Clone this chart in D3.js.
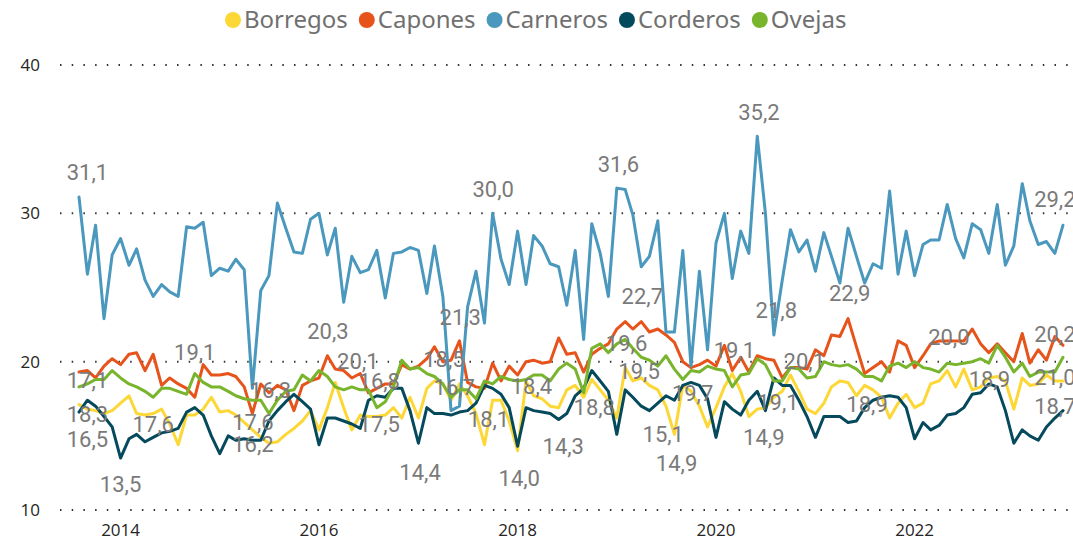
<!DOCTYPE html>
<html>
<head>
<meta charset="utf-8">
<script src="https://cdn.jsdelivr.net/npm/d3@7"></script>
<style>
  body { margin: 0; background: #fff; }
  svg { display: block; }
</style>
</head>
<body>
<svg id="chart" width="1073" height="541"></svg>
<script>
/* ============================================================
   DATA  (monthly, Aug 2013 -> Jul 2023)
============================================================ */

const months = d3.timeMonth.range(new Date(2013, 7, 1), new Date(2023, 7, 1));

const SERIES_NAMES = ["Borregos", "Capones", "Carneros", "Corderos", "Ovejas"];
const SERIES_COLORS = ["#FCD736", "#E6541C", "#4A98BD", "#05495C", "#78B52C"];

const borregos = [
    17.1, 16.8, 16.7, 16.5, 16.7,
    17.2, 17.7, 16.5, 16.4, 16.5, 16.8, 15.8, 14.4, 16.4, 16.4, 16.8, 17.6,
    16.6, 16.7, 16.4, 15.9, 15.4, 14.9, 14.5, 14.6, 15.1, 15.5, 16.0, 16.7,
    15.4, 16.9, 18.6, 16.9, 15.4, 16.4, 16.3, 16.3, 16.4, 16.9, 16.2, 17.6,
    16.2, 18.2, 18.7, 18.5, 17.4, 18.5, 17.7, 16.5, 14.4, 17.4, 17.4, 16.0,
    14.0, 18.7, 17.7, 17.5, 17.0, 16.9, 18.1, 18.4, 17.6, 18.8, 18.1, 17.4,
    16.2, 19.6, 18.7, 18.9, 18.4, 18.1, 17.0, 15.1, 18.4, 18.0, 17.0, 15.6,
    16.9, 18.3, 19.2, 18.0, 16.3, 16.8, 16.9, 17.6, 18.0, 19.1, 18.0, 16.8,
    16.5, 17.2, 18.3, 18.7, 18.6, 17.7, 18.4, 18.1, 17.6, 16.2, 17.2, 17.8,
    16.9, 17.2, 18.5, 18.7, 19.4, 18.3, 19.5, 18.1, 18.3, 18.9, 19.0, 18.7,
    16.8, 18.9, 18.4, 18.5, 19.1, 18.7, 18.7
];

const capones = [
    19.3, 19.4, 18.9, 19.7, 20.2,
    19.8, 20.5, 20.6, 19.4, 20.5, 18.4, 18.9, 18.5, 18.2, 17.6, 19.8, 19.1,
    19.1, 19.2, 19.0, 18.3, 16.5, 18.5, 17.9, 18.4, 18.1, 16.7, 18.4, 18.7,
    18.9, 20.4, 19.5, 19.4, 18.9, 19.2, 17.9, 18.2, 18.5, 18.5, 19.8, 19.5,
    19.7, 20.2, 21.0, 20.0, 20.1, 21.4, 18.6, 18.3, 18.2, 19.9, 18.7, 19.7,
    19.1, 20.0, 20.1, 19.9, 20.0, 21.6, 20.5, 20.6, 19.3, 20.5, 20.9, 21.2,
    22.2, 22.7, 22.2, 22.7, 22.0, 22.2, 21.8, 21.3, 20.0, 19.6, 19.8, 20.1,
    19.7, 21.1, 19.4, 20.3, 19.3, 20.4, 20.2, 20.1, 18.9, 19.6, 19.6, 19.5,
    20.8, 20.4, 21.8, 21.7, 22.9, 21.0, 19.2, 19.6, 20.0, 19.3, 21.4, 21.1,
    19.6, 20.4, 21.2, 21.4, 21.4, 21.4, 21.4, 22.2, 21.2, 20.6, 21.2, 20.6,
    20.0, 21.9, 19.9, 20.8, 20.1, 21.7, 21.1
];

const carneros = [
    31.1, 25.9, 29.2, 22.9, 27.2,
    28.3, 26.5, 27.6, 25.5, 24.4, 25.2, 24.7, 24.4, 29.1, 29.0, 29.4, 25.8,
    26.3, 26.1, 26.9, 26.2, 18.2, 24.8, 25.8, 30.7, 29.0, 27.4, 27.3, 29.6,
    30.0, 27.2, 29.0, 24.0, 27.1, 26.0, 26.2, 27.5, 24.3, 27.3, 27.4, 27.7,
    27.5, 24.6, 27.8, 24.4, 16.7, 17.0, 23.7, 26.1, 22.6, 30.0, 26.9, 25.2,
    28.8, 25.2, 28.5, 27.8, 26.6, 26.4, 23.8, 27.5, 21.5, 29.3, 27.3, 24.4,
    31.7, 31.6, 29.9, 26.4, 27.1, 29.5, 22.0, 22.0, 27.5, 19.7, 26.1, 20.8,
    28.0, 30.0, 25.6, 28.8, 27.3, 35.2, 30.0, 21.8, 25.5, 28.9, 27.4, 28.2,
    26.1, 28.7, 27.1, 25.3, 29.0, 27.1, 25.3, 26.6, 26.3, 31.5, 25.9, 28.8,
    25.8, 27.9, 28.2, 28.2, 30.6, 28.3, 27.0, 29.3, 28.9, 27.3, 30.6, 26.5,
    27.8, 32.0, 29.5, 27.9, 28.1, 27.3, 29.2
];

const corderos = [
    16.6, 17.4, 17.0, 16.3, 15.6,
    13.5, 14.8, 15.1, 14.6, 14.9, 15.2, 15.3, 15.5, 16.6, 16.9, 16.4, 15.0,
    13.8, 15.0, 14.7, 14.8, 14.7, 14.7, 16.0, 16.7, 17.3, 17.8, 17.3, 16.8,
    14.4, 16.2, 16.2, 16.0, 15.8, 15.5, 17.4, 17.7, 17.6, 18.2, 18.2, 16.7,
    14.5, 16.9, 16.5, 16.5, 16.4, 16.6, 16.7, 17.2, 18.4, 18.2, 17.8, 16.9,
    14.3, 16.9, 16.7, 16.6, 16.5, 16.1, 16.5, 17.7, 18.2, 19.4, 18.7, 18.0,
    15.1, 18.1, 17.6, 17.0, 16.7, 17.2, 17.7, 17.4, 18.4, 18.6, 18.4, 17.5,
    14.9, 17.3, 16.8, 16.4, 17.4, 18.0, 16.7, 18.9, 18.4, 18.4, 17.4, 16.3,
    14.9, 16.3, 16.3, 16.3, 15.9, 16.0, 16.9, 17.4, 17.6, 17.7, 17.6, 16.9,
    14.8, 15.9, 15.4, 15.7, 16.4, 16.5, 16.9, 17.8, 17.9, 18.5, 18.3, 16.7,
    14.5, 15.4, 15.0, 14.7, 15.6, 16.2, 16.7
];

const ovejas = [
    18.3, 18.5, 18.8, 18.8, 19.4,
    18.9, 18.5, 18.3, 18.0, 17.6, 18.2, 18.2, 18.0, 17.8, 19.2, 18.6, 18.3,
    18.3, 18.0, 17.7, 17.5, 17.4, 17.4, 16.5, 17.4, 18.0, 18.1, 19.1, 18.7,
    19.4, 19.0, 18.3, 18.1, 18.3, 18.1, 18.1, 16.9, 17.3, 18.3, 20.1, 19.5,
    19.6, 19.2, 19.0, 18.5, 17.6, 18.1, 18.1, 17.5, 18.7, 18.5, 19.0, 18.8,
    18.7, 18.8, 19.1, 19.1, 18.7, 19.5, 19.9, 19.5, 17.9, 20.9, 21.2, 20.6,
    21.2, 21.5, 20.9, 20.3, 20.1, 19.7, 20.4, 19.5, 18.8, 19.4, 19.3, 19.7,
    19.5, 19.4, 18.3, 19.1, 19.2, 20.2, 19.8, 18.7, 18.7, 19.6, 19.5, 18.9,
    19.0, 20.0, 19.8, 19.7, 19.8, 19.5, 19.0, 19.0, 18.7, 19.7, 19.9, 19.6,
    20.0, 19.6, 19.5, 19.3, 19.9, 19.8, 19.9, 20.0, 20.2, 19.9, 21.1, 20.3,
    19.3, 19.9, 19.0, 19.3, 19.3, 19.3, 20.3
];

const SERIES_VALUES = [borregos, capones, carneros, corderos, ovejas];

const Y_TICKS = [10, 20, 30, 40];
const X_TICK_YEARS = [2014, 2016, 2018, 2020, 2022];

// data labels as shown in the picture: text, date it sits over, level (data units)
const DATA_LABELS = [
    ["31,1", "2013-09-01", 32.8], ["17,1", "2013-09-01", 18.77], ["18,3", "2013-09-01", 16.47],
    ["16,5", "2013-09-01", 14.79], ["13,5", "2014-01-01", 11.75], ["17,6", "2014-05-01", 15.8],
    ["19,1", "2014-10-01", 20.65], ["16,3", "2015-07-06", 18.09], ["17,6", "2015-05-03", 15.93],
    ["16,2", "2015-05-03", 14.45], ["20,3", "2016-02-03", 22.07], ["20,1", "2016-05-23", 20.04],
    ["16,8", "2016-08-10", 18.7], ["17,5", "2016-08-10", 15.8], ["18,5", "2017-04-05", 20.18],
    ["21,3", "2017-06-04", 23.0], ["16,7", "2017-05-13", 18.3], ["14,4", "2017-01-07", 12.56],
    ["18,1", "2017-09-16", 16.14], ["30,0", "2017-10-03", 31.65], ["18,4", "2018-02-21", 18.36],
    ["14,0", "2018-01-07", 12.16], ["14,3", "2018-06-18", 14.3], ["18,8", "2018-10-10", 16.95],
    ["19,6", "2019-02-06", 21.26], ["19,5", "2019-03-24", 19.37], ["31,6", "2019-01-07", 33.33],
    ["22,7", "2019-04-05", 24.43], ["19,7", "2019-10-07", 17.9], ["15,1", "2019-06-21", 15.12],
    ["14,9", "2019-08-09", 13.17], ["19,1", "2020-03-09", 20.79], ["35,2", "2020-06-07", 36.84],
    ["21,8", "2020-08-10", 23.49], ["20,1", "2020-11-21", 20.05], ["19,1", "2020-08-16", 17.28],
    ["14,9", "2020-06-25", 14.92], ["22,9", "2021-05-07", 24.63], ["18,9", "2021-07-10", 17.15],
    ["20,0", "2022-05-07", 21.67], ["18,9", "2022-10-03", 18.83], ["29,2", "2023-06-01", 30.97],
    ["20,2", "2023-06-01", 21.87], ["21,0", "2023-06-01", 18.97], ["18,7", "2023-06-01", 17.01]
];

/* ============================================================
   SETUP
============================================================ */

const W = 1073, H = 541;
const svg = d3.select("#chart");

const xScale = d3.scaleTime()
    .domain([months[0], months[months.length - 1]])
    .range([79, 1063]);

const yScale = d3.scaleLinear()
    .domain([10, 40])
    .range([510, 65]);

const AXIS_FONT = "'Open Sans', 'Noto Sans', sans-serif";
const LEGEND_FONT = "'Noto Sans', 'Open Sans', sans-serif";
const LABEL_FONT = "Roboto, 'Noto Sans', sans-serif";

/* ============================================================
   GRID + AXES
============================================================ */

const grid = svg.append("g").attr("class", "grid");

grid.selectAll("line")
    .data(Y_TICKS)
    .join("line")
    .attr("x1", 60)
    .attr("x2", W - 3)
    .attr("y1", d => yScale(d))
    .attr("y2", d => yScale(d))
    .attr("stroke", "#333")
    .attr("stroke-width", 2)
    .attr("stroke-dasharray", "1.5,10.2");

svg.append("g")
    .selectAll("text")
    .data(Y_TICKS)
    .join("text")
    .attr("x", 40)
    .attr("y", d => yScale(d))
    .attr("dy", "0.35em")
    .attr("text-anchor", "end")
    .attr("font-family", AXIS_FONT)
    .attr("font-size", 17)
    .attr("fill", "#252423")
    .text(d => d);

svg.append("g")
    .selectAll("text")
    .data(X_TICK_YEARS)
    .join("text")
    .attr("x", d => xScale(new Date(d, 0, 1)))
    .attr("y", 530)
    .attr("dy", "0.35em")
    .attr("text-anchor", "middle")
    .attr("font-family", AXIS_FONT)
    .attr("font-size", 17)
    .attr("fill", "#252423")
    .text(d => d);

/* ============================================================
   LINES
============================================================ */

const line = d3.line()
    .x((d, i) => xScale(months[i]))
    .y(d => yScale(d));

svg.append("g")
    .selectAll("path")
    .data(SERIES_VALUES)
    .join("path")
    .attr("d", d => line(d))
    .attr("fill", "none")
    .attr("stroke", (d, i) => SERIES_COLORS[i])
    .attr("stroke-width", 3)
    .attr("stroke-linejoin", "round")
    .attr("stroke-linecap", "round");

/* ============================================================
   DATA LABELS
============================================================ */

const parseDay = d3.timeParse("%Y-%m-%d");

svg.append("g")
    .selectAll("text")
    .data(DATA_LABELS)
    .join("text")
    .attr("x", d => xScale(parseDay(d[1])))
    .attr("y", d => yScale(d[2]))
    .attr("dy", "0.35em")
    .attr("text-anchor", "middle")
    .attr("font-family", LABEL_FONT)
    .attr("font-size", 22)
    .attr("fill", "#7a7a7a")
    .text(d => d[0]);

/* ============================================================
   LEGEND
============================================================ */

const legend = svg.append("g").attr("class", "legend");
let lx = 233;
SERIES_NAMES.forEach((name, i) => {
    legend.append("circle")
        .attr("cx", lx)
        .attr("cy", 20)
        .attr("r", 8)
        .attr("fill", SERIES_COLORS[i]);
    const t = legend.append("text")
        .attr("x", lx + 11)
        .attr("y", 20)
        .attr("dy", "0.35em")
        .attr("font-family", LEGEND_FONT)
        .attr("font-size", 24)
        .attr("fill", "#707070")
        .text(name);
    lx += 11 + t.node().getComputedTextLength() + 19;
});
</script>
</body>
</html>
